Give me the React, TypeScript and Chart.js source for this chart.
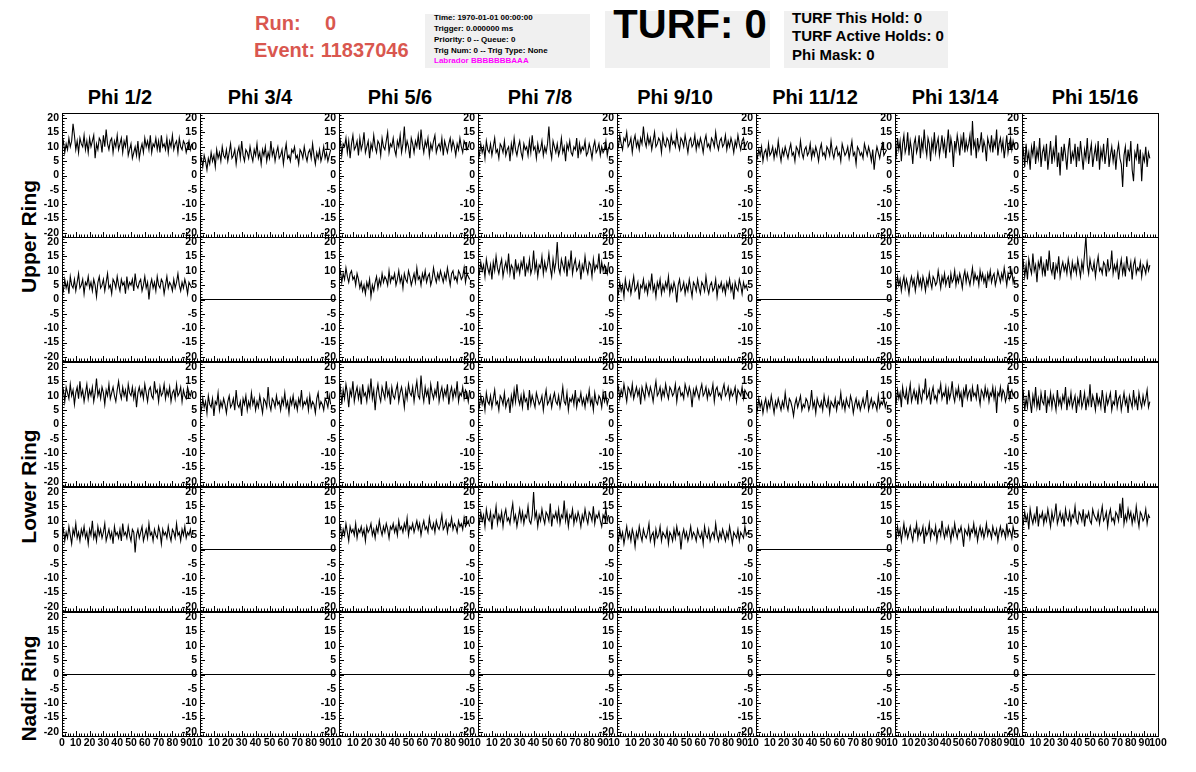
import React, { useEffect, useRef } from 'react';
import { Chart, registerables } from 'chart.js';

Chart.register(...registerables);

const FONT = '"Liberation Sans", Arial, Helvetica, sans-serif';

// ---- text content ----
const PHI_TITLES = ['Phi 1/2', 'Phi 3/4', 'Phi 5/6', 'Phi 7/8', 'Phi 9/10', 'Phi 11/12', 'Phi 13/14', 'Phi 15/16'];
const RING_LABELS = ['Upper Ring', 'Lower Ring', 'Nadir Ring'];
const INFO_LINES = ['Time: 1970-01-01 00:00:00', 'Trigger: 0.000000 ms', 'Priority: 0 -- Queue: 0', 'Trig Num: 0 -- Trig Type: None'];
const LABRADOR_LINE = 'Labrador BBBBBBBAAA';
const TURF_LINES = ['TURF This Hold: 0', 'TURF Active Holds: 0', 'Phi Mask: 0'];

// ---- axes ----
const X_TICKS = [0, 10, 20, 30, 40, 50, 60, 70, 80, 90, 100];
const Y_TICKS = [-20, -15, -10, -5, 0, 5, 10, 15, 20];
const X_MIN = 0, X_MAX = 100;
const Y_MIN = -21.4, Y_MAX = 21.75;
const SAMPLE_DT = 1; // ns per sample
const FLAT_X = [0, 98];
const FLAT_Y = [0, 0];

// ---- waveforms (row = ring/pol, column = phi sector) ----
const r1c1 = [10,12,8,11,9,13,10,12,18,14,9,12,8,13,11,10,14,9,12,
  8,13,10,12,14,6,11,9,13,12,8,14,10,16,11,9,12,13,8,
  12,10,14,9,11,13,8,12,10,14,7,9,11,6,8,10,7,12,6,
  9,11,8,13,10,12,9,14,8,11,10,13,9,12,8,14,10,11,9,
  13,8,12,10,14,9,11,12,8,13,10,9,12,11,8,10,12,9,11];
const r1c2 = [4,6,3,7,5,2,6,4,8,5,7,3,9,6,8,5,10,7,6,
  9,5,8,11,6,7,9,4,8,10,6,12,7,5,9,8,6,10,7,
  5,9,7,11,6,8,4,9,7,10,5,8,6,12,7,9,5,8,10,
  6,7,9,4,8,11,6,7,5,9,8,10,6,7,4,9,8,6,10,
  7,5,8,9,6,11,7,4,8,6,9,5,7,10,6,8,5,7,9];
const r1c3 = [9,12,7,11,10,13,8,12,6,11,14,9,10,12,7,13,9,11,15,
  8,10,12,6,11,9,14,10,8,12,11,7,13,10,9,12,15,8,11,
  10,13,9,7,12,10,14,8,11,17,9,12,10,6,13,11,8,12,10,
  14,9,16,11,8,12,10,13,7,11,9,12,14,8,10,11,9,13,7,
  12,10,8,11,13,9,12,10,7,11,9,13,10,8,12,11,9,10,12];
const r1c4 = [9,7,11,8,10,6,12,9,8,11,7,10,13,8,9,6,11,10,8,
  12,7,9,10,5,11,8,13,9,7,10,12,8,6,11,9,10,7,12,
  8,14,9,10,6,11,8,9,12,7,10,8,11,17,9,6,12,10,8,
  11,7,9,13,8,10,5,11,9,12,8,7,10,9,13,6,11,8,10,
  9,12,7,8,11,9,6,10,12,8,9,11,7,10,8,9,12,7,10];
const r1c5 = [12,10,14,11,9,13,12,15,10,11,13,8,12,14,10,12,9,13,11,
  17,12,10,14,11,13,9,12,15,10,11,13,12,8,14,11,10,13,12,
  9,14,11,12,10,15,11,9,13,12,10,14,11,8,12,13,10,11,14,
  9,12,10,13,11,8,12,14,10,11,9,13,12,10,15,11,9,12,13,
  10,11,14,9,12,10,13,11,8,12,10,14,11,9,12,13,10,11,12];
const r1c6 = [8,6,9,7,10,5,8,9,6,11,7,8,10,6,9,7,12,8,5,
  9,7,10,8,6,9,11,7,8,5,10,9,7,12,8,6,9,10,7,
  8,11,6,9,7,10,8,5,9,11,7,8,6,10,9,7,12,8,6,
  9,10,7,8,5,11,9,7,8,10,6,9,12,7,8,4,10,9,7,
  8,6,11,9,7,10,8,5,9,2,7,10,8,6,9,11,7,8,9];
const r1c7 = [10,7,13,9,12,5,11,14,8,10,15,7,12,9,4,11,13,8,10,
  14,6,12,9,16,10,7,13,11,5,12,9,15,8,11,13,7,10,14,
  9,12,6,11,16,8,13,10,3,12,9,14,11,7,13,10,15,8,12,
  9,11,14,7,19,10,12,6,13,9,11,15,8,12,10,5,13,11,9,
  14,8,12,10,16,7,11,13,9,12,6,10,14,8,11,13,9,12,10];
const r1c8 = [6,9,3,11,5,8,2,10,7,12,4,9,6,13,3,8,10,5,11,
  2,7,12,4,9,6,14,3,8,0,10,5,11,7,2,9,13,4,8,
  6,11,3,10,5,12,7,2,9,6,13,4,8,11,3,7,10,5,12,
  2,9,6,11,4,8,13,3,7,10,5,9,2,8,11,6,4,-4,7,
  10,3,9,5,12,2,-2,8,6,11,4,9,-2,7,5,10,3,8,6];

const r2c1 = [5,3,7,4,6,2,8,5,4,7,3,6,9,4,5,7,2,6,5,
  8,4,6,3,7,5,1,6,8,4,5,7,3,6,9,4,5,2,7,
  6,4,8,5,3,7,5,6,2,8,4,6,5,7,3,9,5,4,6,
  7,3,5,8,4,6,0,5,7,4,6,3,8,5,4,7,6,2,5,
  8,4,6,5,3,7,4,6,9,5,3,6,4,7,5,2,6,5,4];
const r2c3 = [8,10,6,9,7,11,8,6,9,10,7,8,5,9,7,4,6,3,5,
  2,6,4,7,1,5,3,6,8,4,7,5,9,6,8,7,5,10,6,
  8,7,9,5,7,10,6,8,4,9,7,6,10,8,5,7,9,6,11,
  7,8,5,9,7,10,6,8,9,5,7,11,8,6,9,7,10,8,6,
  9,7,11,8,5,9,10,7,8,6,10,9,7,8,11,6,9,8,7];
const r2c4 = [11,9,13,10,12,8,14,11,9,12,7,13,10,15,11,9,12,14,8,
  11,13,10,16,9,12,11,7,14,10,12,9,13,11,15,8,12,10,14,
  9,11,17,10,13,8,12,11,15,9,13,10,12,16,11,8,14,10,13,
  20,11,9,14,12,10,15,8,13,11,17,9,12,14,10,11,13,7,12,
  10,15,11,9,13,12,8,14,10,12,11,16,9,13,10,12,11,9,13];
const r2c5 = [4,2,6,3,5,1,7,4,3,6,2,5,8,3,4,6,0,5,4,
  7,3,5,2,6,4,9,3,5,1,6,4,7,2,5,3,6,4,8,
  2,5,3,6,4,-1,5,7,3,4,6,2,5,3,7,4,1,6,5,
  3,7,4,2,6,5,3,8,4,2,5,6,3,4,7,1,5,4,6,
  3,5,2,6,4,7,3,5,0,6,4,3,7,5,2,6,4,5,3];
const r2c7 = [6,4,8,5,7,3,6,8,4,7,5,2,6,8,5,7,3,6,9,
  5,7,4,8,6,3,7,5,9,6,4,8,7,5,6,10,7,4,8,
  6,9,5,7,8,4,9,6,7,10,5,8,6,9,7,4,8,10,6,
  9,7,5,8,11,6,9,7,8,5,10,7,9,6,8,4,9,7,10,
  6,8,9,5,7,10,8,6,9,7,11,8,5,9,7,8,10,6,8];
const r2c8 = [10,13,8,12,7,14,11,9,16,10,12,6,13,11,15,9,12,8,14,
  10,17,11,9,13,7,12,10,15,8,11,13,10,12,9,14,11,8,13,
  10,12,9,14,11,8,13,10,16,22,12,9,14,11,10,13,8,12,15,
  10,11,9,13,12,8,14,10,11,17,9,12,10,13,7,11,14,9,12,
  8,15,11,10,13,7,12,14,9,11,10,13,8,12,11,9,13,10,12];

const r3c1 = [10,12,8,13,11,9,14,10,12,7,11,13,9,15,10,12,8,11,14,
  9,12,10,13,8,11,16,10,12,9,13,11,7,12,10,14,9,11,13,
  10,8,12,15,11,9,13,10,12,8,14,11,10,13,9,12,6,11,13,
  10,12,9,14,11,8,12,13,10,9,15,11,12,8,13,10,11,14,9,
  12,10,13,8,11,12,9,14,10,11,13,8,12,10,9,13,11,10,12];
const r3c2 = [7,5,9,6,8,4,10,7,6,9,3,8,7,11,5,8,6,9,7,
  4,8,10,6,7,9,5,12,7,6,8,3,9,7,10,5,8,6,11,
  7,9,5,8,6,10,7,4,9,8,6,13,7,5,9,8,6,10,7,
  8,5,9,7,11,6,8,4,9,7,10,6,8,5,9,7,12,6,8,
  7,9,5,10,6,8,7,4,9,11,6,8,7,5,9,8,6,10,7];
const r3c3 = [10,13,7,12,9,14,11,6,12,10,15,8,11,13,9,12,7,14,10,
  11,8,13,10,16,9,12,5,11,14,10,8,13,11,9,15,10,12,7,
  13,10,9,12,14,8,11,13,10,6,12,9,14,11,10,13,8,12,15,
  10,9,17,11,8,13,10,12,7,14,11,9,12,10,15,8,11,13,9,
  12,10,14,7,11,13,9,12,10,15,8,11,10,13,9,12,11,8,12];
const r3c4 = [8,6,10,7,9,5,11,8,7,10,6,9,12,7,8,5,10,9,7,
  11,6,8,9,4,10,7,12,8,14,9,7,10,6,11,8,9,5,12,
  7,10,8,6,11,9,7,8,10,5,9,12,7,8,10,6,9,11,8,
  7,10,6,9,13,8,7,11,5,9,8,10,7,12,6,9,8,11,7,
  9,6,10,8,12,7,9,5,11,8,7,10,9,6,11,8,10,7,9];
const r3c5 = [11,13,9,12,10,14,11,8,13,12,10,14,9,11,13,10,12,7,13,
  11,9,14,12,10,13,11,8,12,15,10,11,13,9,12,10,14,11,9,
  13,12,10,11,14,8,12,13,10,11,9,14,12,10,13,11,6,12,10,
  13,11,9,12,14,10,11,13,9,12,10,11,14,8,12,13,10,11,9,
  12,14,10,11,13,9,12,10,11,13,8,12,11,10,13,9,12,11,10];
const r3c6 = [7,5,9,6,8,4,7,9,5,8,6,10,7,4,8,6,9,7,5,
  8,6,11,7,5,9,8,6,3,7,9,6,8,10,5,7,6,9,8,
  5,7,12,6,8,4,9,7,6,8,5,10,7,6,9,4,8,7,6,
  9,5,8,7,11,6,8,5,9,7,6,10,8,4,7,9,6,8,5,
  7,9,6,8,12,5,7,9,6,8,7,5,10,6,8,7,9,6,8];
const r3c7 = [10,8,12,9,11,6,13,10,9,12,7,11,14,8,10,12,9,11,7,
  13,10,8,12,11,16,9,10,12,7,11,13,9,10,8,12,11,14,9,
  11,10,13,7,12,9,11,15,10,8,12,10,13,9,11,6,12,10,14,
  9,11,12,8,13,10,11,9,14,10,7,12,11,9,13,10,12,8,11,
  10,13,9,12,4,11,10,13,9,12,11,8,10,14,9,11,12,10,11];
const r3c8 = [8,11,5,9,6,12,8,4,10,7,13,6,9,5,11,8,7,12,4,
  9,7,11,6,10,8,5,12,7,9,6,10,8,13,5,9,7,11,6,
  8,10,4,9,7,12,6,8,11,5,9,7,14,6,10,8,5,11,7,
  9,6,12,8,4,10,7,9,11,5,8,7,12,6,9,10,5,8,11,
  7,9,4,10,8,6,12,7,9,5,11,8,6,10,7,9,12,6,8];

const r4c1 = [5,7,3,6,4,8,5,2,7,5,9,4,6,3,7,5,8,4,6,
  2,7,5,10,4,6,3,8,5,7,4,6,9,3,5,7,4,6,2,
  8,5,6,4,7,3,9,5,6,4,8,5,3,7,6,-1,5,7,4,
  6,8,3,5,7,4,9,5,6,3,7,5,4,8,6,2,7,5,6,
  4,8,5,3,7,6,4,9,5,6,3,7,5,8,4,6,5,7,4];
const r4c3 = [6,8,4,7,5,9,6,3,8,6,7,5,9,4,7,6,8,5,7,
  3,8,6,7,9,5,7,4,8,6,10,7,5,8,6,9,7,4,8,
  7,9,6,8,5,10,7,8,6,9,7,11,5,8,7,9,6,8,10,
  7,9,5,8,10,7,8,6,11,8,7,9,6,10,8,7,9,12,7,
  8,10,6,9,8,11,7,9,8,6,10,8,9,7,11,8,9,10,8];
const r4c4 = [11,9,13,10,12,8,14,11,10,13,7,12,11,15,9,12,10,13,8,
  12,14,10,11,9,13,16,10,12,8,11,14,10,13,9,12,11,15,10,
  9,12,20,11,13,8,12,10,14,11,9,13,12,10,16,8,12,11,13,
  10,14,9,12,11,17,10,13,8,12,11,14,9,12,10,13,11,8,12,
  10,14,11,9,13,12,10,15,9,12,11,13,10,8,12,11,14,10,12];
const r4c5 = [5,3,7,4,6,2,5,8,4,6,3,7,5,1,6,4,8,5,3,
  7,5,4,6,9,3,5,6,2,7,4,5,8,3,6,5,4,7,2,
  6,5,3,7,4,8,5,6,0,5,7,4,6,3,5,8,4,6,5,
  3,7,5,4,6,2,8,5,4,7,3,5,6,4,9,5,3,6,4,
  7,5,3,6,4,8,5,2,6,5,4,7,3,6,5,4,8,5,6];
const r4c7 = [6,4,8,5,7,3,6,9,5,7,4,6,8,5,3,7,6,9,4,
  7,5,6,8,2,7,5,6,9,4,7,6,5,8,3,6,7,5,10,
  6,4,7,5,8,6,3,7,5,9,6,4,7,6,8,5,1,7,6,
  5,8,4,7,6,9,5,7,3,6,8,5,7,4,6,9,5,7,6,
  4,8,6,5,7,3,6,8,5,7,6,4,9,5,7,6,4,8,6];
const r4c8 = [11,9,13,10,12,7,14,11,9,12,10,15,8,12,11,13,9,12,10,
  14,11,8,13,10,12,16,9,11,13,10,12,8,14,11,10,13,9,12,
  11,15,10,9,13,12,10,14,8,12,11,13,10,9,14,12,11,10,13,
  9,12,15,10,11,13,8,12,14,10,11,9,13,12,10,16,11,18,9,
  12,10,14,11,13,9,12,10,15,11,8,13,12,10,11,14,9,12,11];

// null = channel with no signal (flat line at 0)
const GRID: (number[] | null)[][] = [
  [r1c1, r1c2, r1c3, r1c4, r1c5, r1c6, r1c7, r1c8],
  [r2c1, null, r2c3, r2c4, r2c5, null, r2c7, r2c8],
  [r3c1, r3c2, r3c3, r3c4, r3c5, r3c6, r3c7, r3c8],
  [r4c1, null, r4c3, r4c4, r4c5, null, r4c7, r4c8],
  [null, null, null, null, null, null, null, null],
];

// ---- layout ----
const COL_LEFT = [62, 200, 339, 478, 617, 756, 895, 1022];
const PLOT_RIGHT = 1158;
const ROW_TOP = [113, 237, 362, 487, 612];
const ROW_H = 124;
const LM = 30; // label room left of axis
const TP = 6;
const BP = 4;
const XH = 15;
const TITLE_X = [120, 260, 400, 540, 675, 815, 955, 1095];
const RING_Y = [236, 486, 688];

const tickFont = { family: FONT, size: 10.5, weight: 'bold' as const };

const rootFrame = {
  id: 'rootFrame',
  afterDraw(chart: any) {
    const { ctx, chartArea: a, scales } = chart;
    const xs = scales.x, ys = scales.y;
    ctx.save();
    ctx.strokeStyle = '#000';
    ctx.lineWidth = 1;
    ctx.beginPath();
    for (let v = Math.ceil(Y_MIN); v <= Math.floor(Y_MAX); v++) {
      const y = Math.round(ys.getPixelForValue(v)) + 0.5;
      const len = v % 5 === 0 ? 5 : 2.5;
      ctx.moveTo(a.left, y);
      ctx.lineTo(a.left + len, y);
    }
    for (let v = X_MIN; v <= X_MAX; v += 2) {
      const x = Math.round(xs.getPixelForValue(v)) + 0.5;
      const len = v % 10 === 0 ? 5 : 2.5;
      ctx.moveTo(x, a.bottom);
      ctx.lineTo(x, a.bottom - len);
    }
    ctx.stroke();
    ctx.strokeRect(Math.round(a.left) + 0.5, Math.round(a.top) + 0.5, Math.round(a.right - a.left), Math.round(a.bottom - a.top));
    ctx.restore();
  },
};

function Panel({ r, c }: { r: number; c: number }) {
  const ref = useRef<HTMLCanvasElement>(null);
  const bottomRow = r === ROW_TOP.length - 1;
  const lastCol = c === COL_LEFT.length - 1;
  const plotW = (lastCol ? PLOT_RIGHT : COL_LEFT[c + 1]) - COL_LEFT[c];
  const RP = lastCol ? 14 : 3;
  const xh = bottomRow ? XH : 0;
  const w = LM + plotW + RP;
  const h = TP + ROW_H + xh + BP;
  useEffect(() => {
    const values = GRID[r][c];
    const pts = values
      ? values.map((v, i) => ({ x: i * SAMPLE_DT, y: v }))
      : FLAT_X.map((x, i) => ({ x, y: FLAT_Y[i] }));
    const chart = new Chart(ref.current as HTMLCanvasElement, {
      type: 'line',
      data: {
        datasets: [{
          data: pts,
          borderColor: '#000',
          borderWidth: 1.1,
          pointRadius: 0,
          tension: 0,
          fill: false,
        }],
      },
      options: {
        animation: false,
        responsive: false,
        events: [],
        layout: { autoPadding: false, padding: { left: 0, top: TP, right: RP, bottom: BP } },
        plugins: { legend: { display: false }, tooltip: { enabled: false }, title: { display: false } },
        scales: {
          x: {
            type: 'linear',
            min: X_MIN,
            max: X_MAX,
            afterBuildTicks: (s: any) => { s.ticks = X_TICKS.map((v) => ({ value: v })); },
            afterFit: (s: any) => { s.height = xh; s.paddingLeft = 0; s.paddingRight = 0; },
            grid: { display: false, drawTicks: false },
            border: { display: false },
            ticks: {
              display: bottomRow,
              font: tickFont,
              color: '#000',
              padding: 1,
              autoSkip: false,
              maxRotation: 0,
              minRotation: 0,
              callback: (v: any) => (c > 0 && v === 0 ? '' : String(v)),
            },
          },
          y: {
            type: 'linear',
            min: Y_MIN,
            max: Y_MAX,
            afterBuildTicks: (s: any) => { s.ticks = Y_TICKS.map((v) => ({ value: v })); },
            afterFit: (s: any) => { s.width = LM; s.paddingTop = 0; s.paddingBottom = 0; },
            grid: { display: false, drawTicks: false },
            border: { display: false },
            ticks: { font: tickFont, color: '#000', padding: 3, autoSkip: false },
          },
        },
      },
      plugins: [rootFrame],
    } as any);
    return () => chart.destroy();
  }, []);
  return (
    <canvas
      ref={ref}
      width={w}
      height={h}
      style={{ position: 'absolute', left: COL_LEFT[c] - LM, top: ROW_TOP[r] - TP, width: w, height: h }}
    />
  );
}

function Txt({ x, base, size, color = '#000', children, center = false }: any) {
  const style: any = {
    position: 'absolute',
    top: base - 0.8465 * size,
    fontFamily: FONT,
    fontWeight: 'bold',
    fontSize: size,
    lineHeight: `${size}px`,
    color,
    whiteSpace: 'nowrap',
  };
  if (center) {
    style.left = x - 150;
    style.width = 300;
    style.textAlign = 'center';
  } else {
    style.left = x;
  }
  return <div style={style}>{children}</div>;
}

export default function App() {
  const panels = [];
  for (let r = 0; r < ROW_TOP.length; r++) {
    for (let c = 0; c < COL_LEFT.length; c++) {
      panels.push(<Panel key={`${r}-${c}`} r={r} c={c} />);
    }
  }
  const red = '#d9574f';
  return (
    <div style={{ position: 'absolute', left: 0, top: 0, width: 1196, height: 772, background: '#fff', overflow: 'hidden' }}>
      <Txt x={255} base={29.5} size={20} color={red}>Run:</Txt>
      <Txt x={325} base={29.5} size={20} color={red}>0</Txt>
      <Txt x={254} base={56.5} size={20} color={red}>Event: 11837046</Txt>

      <div style={{ position: 'absolute', left: 425, top: 14, width: 165, height: 54, background: '#f0f0f0' }} />
      {INFO_LINES.map((t, i) => (
        <Txt key={t} x={434} base={20.3 + i * 11} size={8}>{t}</Txt>
      ))}
      <Txt x={434} base={64} size={8} color="#ff00ff">{LABRADOR_LINE}</Txt>

      <div style={{ position: 'absolute', left: 605, top: 11, width: 165, height: 57, background: '#f0f0f0' }} />
      <Txt x={690} base={37.7} size={40} center>TURF: 0</Txt>

      <div style={{ position: 'absolute', left: 784, top: 11, width: 164, height: 57, background: '#f0f0f0' }} />
      {TURF_LINES.map((t, i) => (
        <Txt key={t} x={792} base={22.7 + i * 18.3} size={15}>{t}</Txt>
      ))}

      {PHI_TITLES.map((t, i) => (
        <Txt key={t} x={TITLE_X[i]} base={104} size={20} center>{t}</Txt>
      ))}

      {RING_LABELS.map((t, i) => (
        <div
          key={t}
          style={{
            position: 'absolute',
            left: 28 - 100,
            top: RING_Y[i] - 10.5,
            width: 200,
            height: 21,
            lineHeight: '21px',
            fontSize: 21,
            fontFamily: FONT,
            fontWeight: 'bold',
            textAlign: 'center',
            transform: 'rotate(-90deg)',
            whiteSpace: 'nowrap',
          }}
        >
          {t}
        </div>
      ))}

      {panels}
    </div>
  );
}
